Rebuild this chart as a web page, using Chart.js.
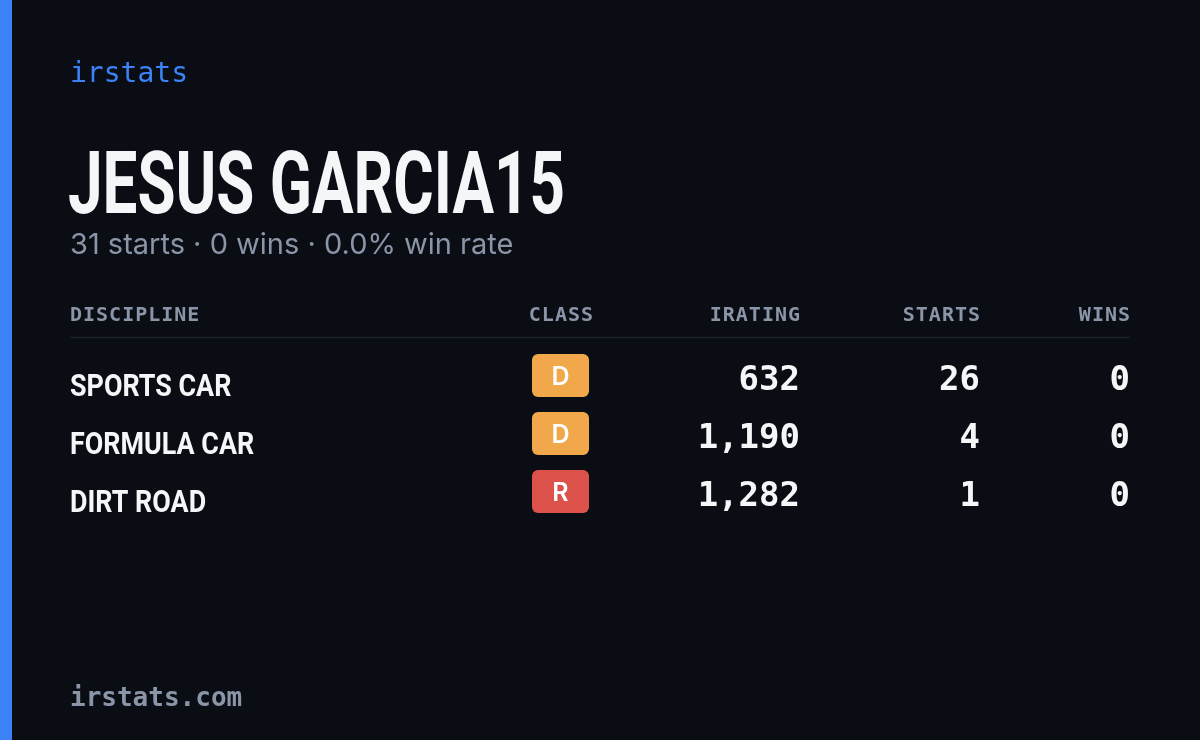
<!DOCTYPE html>
<html>
<head>
<meta charset="utf-8">
<script src="https://cdn.jsdelivr.net/npm/chart.js@4"></script>
<style>
  html, body { margin: 0; padding: 0; background: #0a0d14; overflow: hidden; }
  #wrap { width: 1200px; height: 740px; position: relative; }
</style>
</head>
<body>
<div id="wrap"><canvas id="card" width="1200" height="740"></canvas></div>
<script>
// Data
const driverName = "JESUS GARCIA15";
const subtitle = "31 starts · 0 wins · 0.0% win rate";
const columns = ["DISCIPLINE", "CLASS", "IRATING", "STARTS", "WINS"];
const disciplines = ["SPORTS CAR", "FORMULA CAR", "DIRT ROAD"];
const classes = ["D", "D", "R"];
const iratings = [632, 1190, 1282];
const starts = [26, 4, 1];
const wins = [0, 0, 0];

const classColors = { D: "#f0a84a", R: "#dc524b" };
const mono = "'DejaVu Sans Mono', monospace";

// squeeze a bold sans to look like a condensed face
function condensed(ctx, text, x, y, size, sx) {
  ctx.save();
  ctx.font = `bold ${size}px Roboto`;
  ctx.translate(x, y);
  ctx.scale(sx, 1);
  ctx.fillText(text, 0, 0);
  ctx.restore();
}

const cardPlugin = {
  id: "card",
  afterDraw(chart) {
    const ctx = chart.ctx;
    const y = chart.scales.y;
    ctx.save();
    ctx.fillStyle = "#3b82f6";
    ctx.fillRect(0, 0, 12, 740);

    ctx.textBaseline = "alphabetic";
    ctx.textAlign = "left";
    ctx.fillStyle = "#3b82f6";
    ctx.font = `28px ${mono}`;
    ctx.fillText("irstats", 70, 82);

    // title fitted to reference width
    ctx.fillStyle = "#f5f6f8";
    ctx.font = "bold 88px Roboto";
    const tw = ctx.measureText(driverName).width;
    condensed(ctx, driverName, 68, 213, 88, 497 / tw);

    ctx.fillStyle = "#8b95a8";
    ctx.font = "29px Inter";
    ctx.fillText(subtitle, 70, 254);

    // header, letter-spaced
    ctx.font = `bold 20px ${mono}`;
    ctx.fillStyle = "#8b95a8";
    ctx.letterSpacing = "1px";
    const colX = [70, 594, 801, 981, 1131];
    columns.forEach((c, i) => {
      ctx.textAlign = i === 0 ? "left" : "right";
      ctx.fillText(c, colX[i], 321);
    });
    ctx.letterSpacing = "0px";
    ctx.strokeStyle = "#1c212b";
    ctx.lineWidth = 1.5;
    ctx.beginPath();
    ctx.moveTo(70, 337.5);
    ctx.lineTo(1130, 337.5);
    ctx.stroke();

    disciplines.forEach((d, i) => {
      const cy = y.getPixelForValue(i);
      ctx.textAlign = "left";
      ctx.fillStyle = "#f5f6f8";
      condensed(ctx, d, 70, cy + 18, 32, 0.84);

      // class badge
      ctx.fillStyle = classColors[classes[i]];
      ctx.beginPath();
      ctx.roundRect(532, cy - 24, 57, 43, 6);
      ctx.fill();
      ctx.fillStyle = "#ffffff";
      ctx.textAlign = "center";
      ctx.font = "600 25px Inter";
      ctx.fillText(classes[i], 560.5, cy + 7);

      ctx.textAlign = "right";
      ctx.fillStyle = "#f5f6f8";
      ctx.font = `bold 34px ${mono}`;
      ctx.fillText(iratings[i].toLocaleString("en-US"), 800, cy + 12);
      ctx.fillText(String(starts[i]), 980, cy + 12);
      ctx.fillText(String(wins[i]), 1130, cy + 12);
    });

    ctx.textAlign = "left";
    ctx.fillStyle = "#8b95a8";
    ctx.font = `bold 26px ${mono}`;
    ctx.fillText("irstats.com", 70, 706);
    ctx.restore();
  }
};

new Chart(document.getElementById("card"), {
  type: "scatter",
  data: {
    datasets: [{
      data: disciplines.map((d, i) => ({ x: iratings[i], y: i })),
      pointRadius: 0
    }]
  },
  options: {
    responsive: false,
    animation: false,
    events: [],
    layout: { padding: { top: 349, bottom: 217, left: 0, right: 0 } },
    plugins: { legend: { display: false }, tooltip: { enabled: false } },
    scales: {
      x: { type: "linear", display: false, min: 0, max: 2000 },
      y: { type: "linear", display: false, min: -0.5, max: 2.5, reverse: true }
    }
  },
  plugins: [cardPlugin]
});
</script>
</body>
</html>
